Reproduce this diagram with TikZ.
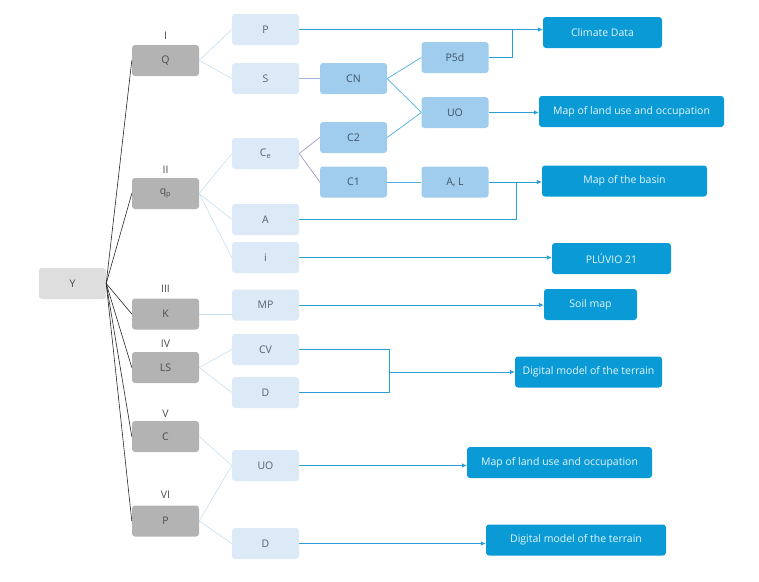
\documentclass[tikz,border=0pt]{standalone}
\usepackage{fontspec}
\setmainfont{Open Sans}
\usetikzlibrary{arrows.meta}
\definecolor{yfill}{HTML}{DEDEDE}
\definecolor{gfill}{HTML}{B3B3B3}
\definecolor{lfill}{HTML}{DCEAF7}
\definecolor{mfill}{HTML}{A0CDEE}
\definecolor{dfill}{HTML}{0A9BD6}
\definecolor{gtext}{HTML}{4D4D4D}
\definecolor{btext}{HTML}{56626E}
\definecolor{mtext}{HTML}{3F5262}
\definecolor{dtext}{HTML}{E4F4FB}
\definecolor{paleline}{HTML}{C5DFF0}
\definecolor{midline}{HTML}{4FAEE0}
\definecolor{greyblue}{HTML}{9BB5D5}
\definecolor{purpline}{HTML}{9A9CC8}
\definecolor{arrline}{HTML}{2A9FD6}
\begin{document}
\begin{tikzpicture}[x=1pt,y=-1pt,
  font=\fontsize{10.5}{12}\selectfont,
  box/.style={rectangle,rounded corners=3pt,minimum height=31pt,inner sep=0pt},
  ybox/.style={box,fill=yfill,text=gtext,minimum width=67pt},
  gbox/.style={box,fill=gfill,text=gtext,minimum width=67pt},
  lbox/.style={box,fill=lfill,text=btext,minimum width=67pt},
  mbox/.style={box,fill=mfill,text=mtext,minimum width=67pt},
  dbox/.style={box,fill=dfill,text=dtext},
  roman/.style={text=gtext,inner sep=0pt},
  treeline/.style={draw=black!85,line width=0.6pt},
  pale/.style={draw=paleline,line width=0.6pt},
  midl/.style={draw=midline,line width=0.7pt},
  arr/.style={draw=arrline,line width=0.7pt},
  arrtip/.style={arr,-{Latex[length=5pt,width=4.5pt]}}
]
\useasboundingbox (0,0) rectangle (759,581);

% root
\node[ybox] (Y) at (72.5,283.5) {Y};

% grey level
\node[gbox] (Q) at (165.5,60.5) {Q};
\node[gbox] (qp) at (165.5,193.5) {q\textsubscript{p}};
\node[gbox] (K) at (165.5,314) {K};
\node[gbox] (LS) at (165.5,367.5) {LS};
\node[gbox] (C) at (165.5,436.5) {C};
\node[gbox] (PP) at (165.5,521) {P};

\node[roman] (r1) at (165.5,36) {I};
\node[roman] (r2) at (165.5,170) {II};
\node[roman] (r3) at (165.5,289) {III};
\node[roman] (r4) at (165.5,344) {IV};
\node[roman] (r5) at (165.5,414) {V};
\node[roman] (r6) at (165.5,495) {VI};

% light blue level
\node[lbox] (P) at (265.5,29.5) {P};
\node[lbox] (S) at (265.5,78.5) {S};
\node[lbox] (Ce) at (265.5,153.5) {C\textsubscript{e}};
\node[lbox] (A) at (265.5,219.5) {A};
\node[lbox] (i) at (265.5,257.5) {i};
\node[lbox] (MP) at (265.5,305) {MP};
\node[lbox] (CV) at (265.5,349.5) {CV};
\node[lbox] (D) at (265.5,392.5) {D};
\node[lbox] (UO) at (265.5,465.5) {UO};
\node[lbox] (D2) at (265.5,543.5) {D};

% mid blue level
\node[mbox] (CN) at (353.5,78.5) {CN};
\node[mbox] (C2) at (353.5,137.5) {C2};
\node[mbox] (C1) at (353.5,182) {C1};
\node[mbox] (P5d) at (455,57.5) {P5d};
\node[mbox] (UO1) at (455,112.5) {UO};
\node[mbox] (AL) at (455,182) {A, L};

% dark blue outputs
\node[dbox,minimum width=119pt] (Clim) at (602.5,32.5) {Climate Data};
\node[dbox,minimum width=185pt] (LU1) at (631.5,111.5) {Map of land use and occupation};
\node[dbox,minimum width=165pt] (Basin) at (624.5,181) {Map of the basin};
\node[dbox,minimum width=119pt] (Pluv) at (611.5,258.5) {PLÚVIO 21};
\node[dbox,minimum width=93pt] (Soil) at (590.5,304.5) {Soil map};
\node[dbox,minimum width=147pt] (DM1) at (588.5,372) {Digital model of the terrain};
\node[dbox,minimum width=185pt] (LU2) at (559.5,462.5) {Map of land use and occupation};
\node[dbox,minimum width=180pt] (DM2) at (576,540) {Digital model of the terrain};

% junctions
\coordinate (j1) at (512,29.5);
\coordinate (j2) at (516,182);
\coordinate (j3) at (389,372);

% tree lines from Y
\foreach \t in {Q,qp,K,LS,C,PP} \draw[treeline] (Y.east) -- (\t.west);

% grey -> light blue
\draw[pale] (Q.east) -- (P.west);
\draw[pale] (Q.east) -- (S.west);
\draw[pale] (qp.east) -- (Ce.west);
\draw[pale] (qp.east) -- (A.west);
\draw[pale] (qp.east) -- (i.west);
\draw[pale] (K.east) -- (K.east -| MP.west);
\draw[pale] (LS.east) -- (CV.west);
\draw[pale] (LS.east) -- (D.west);
\draw[pale] (C.east) -- (UO.west);
\draw[pale] (PP.east) -- (UO.west);
\draw[pale] (PP.east) -- (D2.west);

% inner links
\draw[draw=greyblue,line width=0.7pt] (S.east) -- (CN.west);
\draw[draw=purpline,line width=0.7pt] (Ce.east) -- (C2.west);
\draw[draw=purpline,line width=0.7pt] (Ce.east) -- (C1.west);
\draw[midl] (CN.east) -- (P5d.west);
\draw[midl] (CN.east) -- (UO1.west);
\draw[midl] (C2.east) -- (UO1.west);
\draw[midl] (C1.east) -- (AL.west);

% arrows to outputs
\draw[arrtip] (P.east) -- (P.east -| Clim.west);
\draw[arr] (P5d.east) -| (j1);
\draw[arrtip] (UO1.east) -- (UO1.east -| LU1.west);
\draw[arrtip] (AL.east) -- (AL.east -| Basin.west);
\draw[arr] (A.east) -| (j2);
\draw[arrtip] (i.east) -- (i.east -| Pluv.west);
\draw[arrtip] (MP.east) -- (MP.east -| Soil.west);
\draw[arr] (CV.east) -| (j3);
\draw[arr] (D.east) -| (j3);
\draw[arrtip] (j3) -- (DM1.west);
\draw[arrtip] (UO.east) -- (UO.east -| LU2.west);
\draw[arrtip] (D2.east) -- (D2.east -| DM2.west);
\end{tikzpicture}
\end{document}
